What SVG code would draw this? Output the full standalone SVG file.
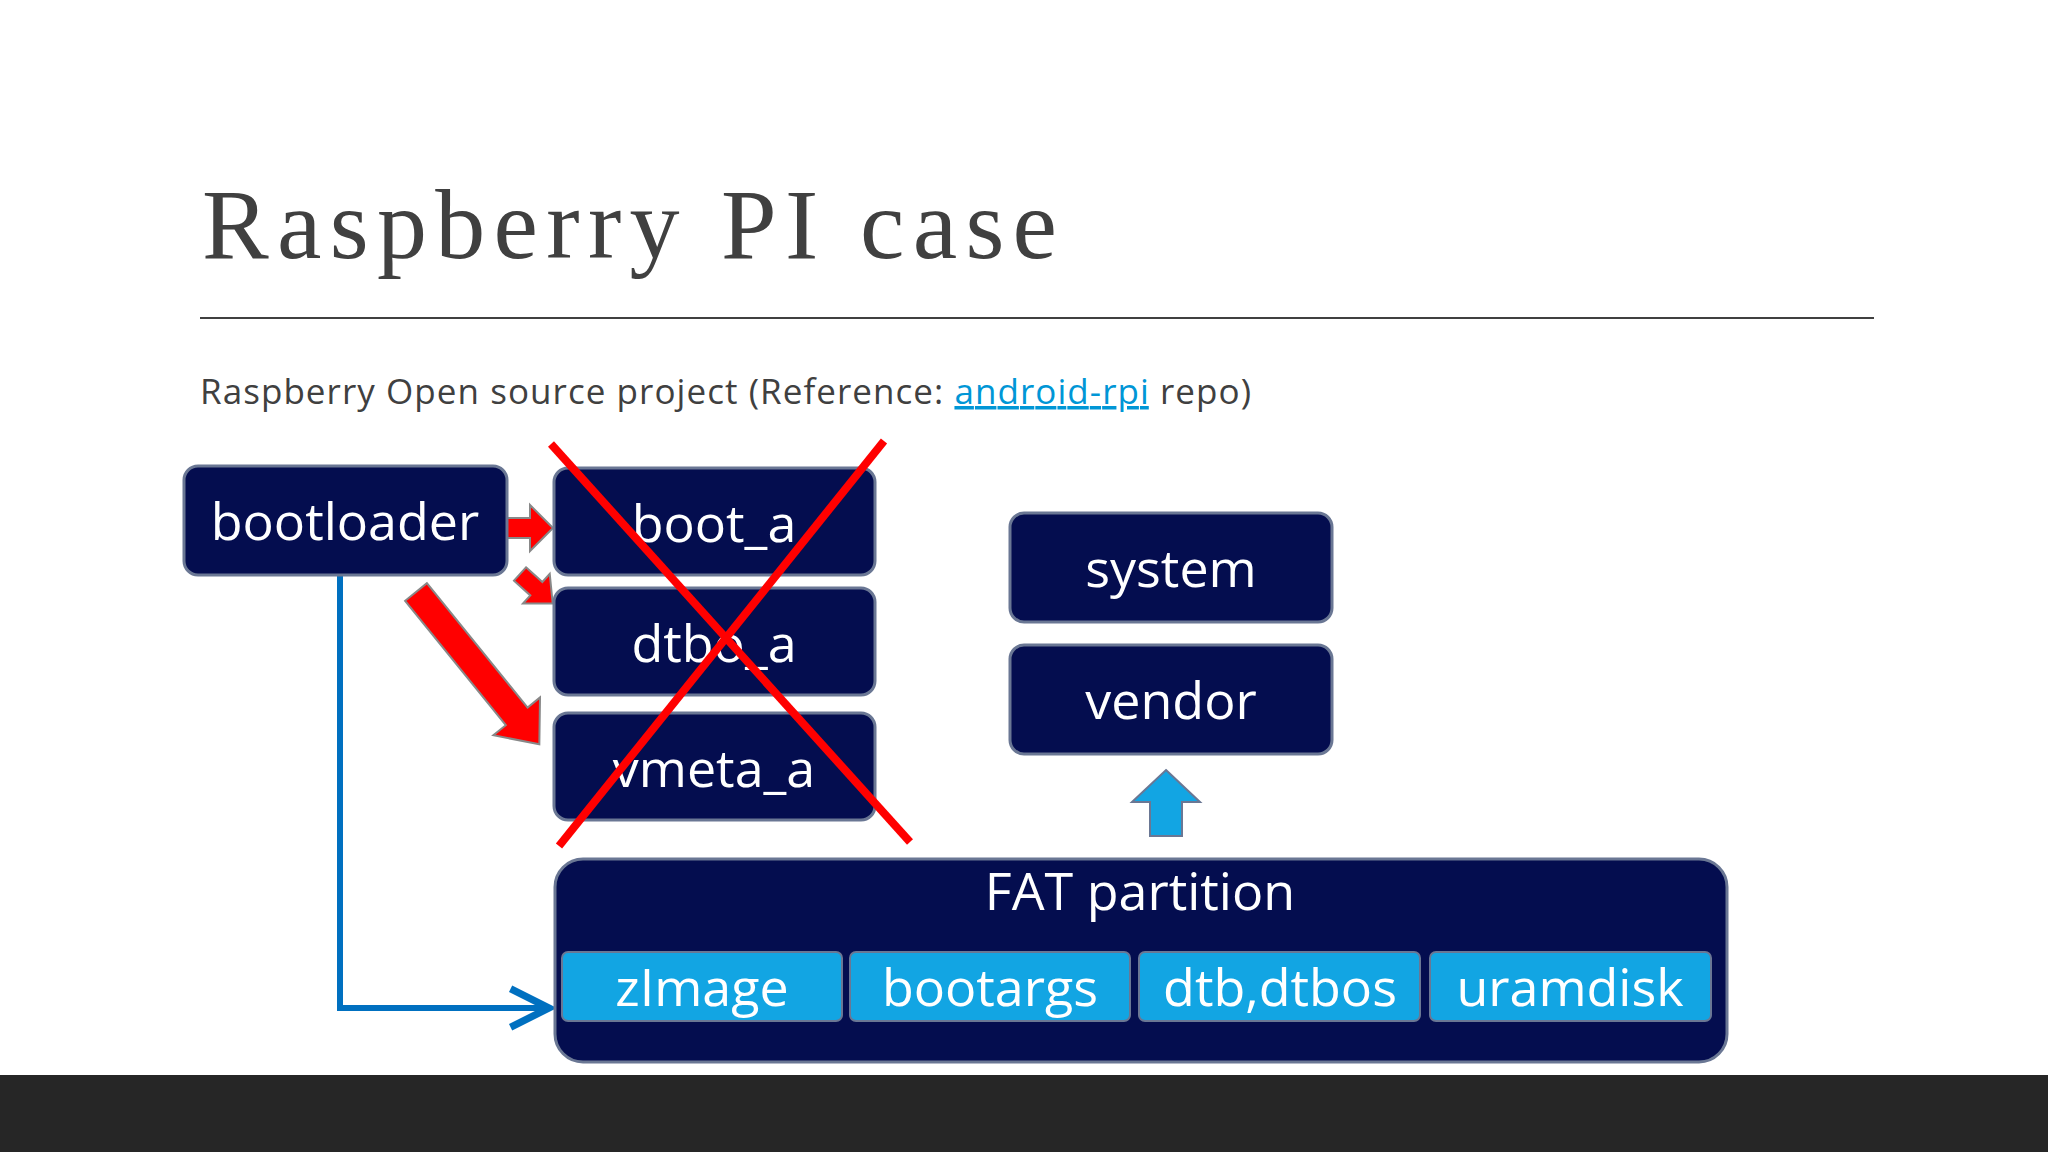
<svg xmlns="http://www.w3.org/2000/svg" width="2048" height="1152" viewBox="0 0 2048 1152">
<defs>
<style>
.box{fill:#040d4f;stroke:#6a7794;stroke-width:3}
.sub{fill:#12a5e3;stroke:#6a7794;stroke-width:2}
.lbl{font-family:"Open Sans","Noto Sans",sans-serif;font-size:52px;fill:#ffffff;text-anchor:middle}
.red{fill:#ff0000;stroke:#888;stroke-width:2}
</style>
<marker id="chev" viewBox="0 0 20 20" refX="18" refY="10" markerWidth="8" markerHeight="8" markerUnits="strokeWidth" orient="auto"><path d="M2,2 L18,10 L2,18" fill="none" stroke="#0070c0" stroke-width="3"/></marker>
</defs>
<rect width="2048" height="1152" fill="#ffffff"/>
<rect y="1075" width="2048" height="77" fill="#262626"/>
<text x="202" y="258" font-family="'Liberation Serif',serif" font-size="100" fill="#404040" textLength="855">Raspberry PI case</text>
<line x1="200" y1="318" x2="1874" y2="318" stroke="#404040" stroke-width="2"/>
<text x="200" y="404" font-family="'Open Sans','Noto Sans',sans-serif" font-size="35" fill="#404040" textLength="1051">Raspberry Open source project (Reference: <tspan fill="#0096d6" text-decoration="underline">android-rpi</tspan> repo)</text>
<g id="connectors">
<polyline points="340,569 340,1008 549,1008" fill="none" stroke="#0070c0" stroke-width="6" marker-end="url(#chev)"/>
<path class="red" d="M507,518 L530,518 L530,505 L553,528 L530,551 L530,538 L507,538 Z"/>
<path class="red" transform="translate(520,574) rotate(42)" d="M0,-9 L22,-9 L22,-20 L44,0 L22,20 L22,9 L0,9 Z"/>
<path class="red" transform="translate(416,592) rotate(51)" d="M0,-14 L160,-14 L160,-30 L196,0 L160,30 L160,14 L0,14 Z"/>
<path d="M1166,770 L1200,802 L1182,802 L1182,836 L1150,836 L1150,802 L1132,802 Z" fill="#12a5e3" stroke="#6a7794" stroke-width="2"/>
</g>
<g id="bootloader"><rect class="box" x="184" y="466" width="323" height="109" rx="14"/><text class="lbl" x="345" y="540">bootloader</text></g>
<g id="boot_a"><rect class="box" x="554" y="468" width="321" height="107" rx="14"/><text class="lbl" x="714" y="542">boot_a</text></g>
<g id="dtbo_a"><rect class="box" x="554" y="588" width="321" height="107" rx="14"/><text class="lbl" x="714" y="662">dtbo_a</text></g>
<g id="vmeta_a"><rect class="box" x="554" y="713" width="321" height="107" rx="14"/><text class="lbl" x="714" y="787">vmeta_a</text></g>
<g id="system"><rect class="box" x="1010" y="513" width="322" height="109" rx="14"/><text class="lbl" x="1171" y="587">system</text></g>
<g id="vendor"><rect class="box" x="1010" y="645" width="322" height="109" rx="14"/><text class="lbl" x="1171" y="719">vendor</text></g>
<g id="fat">
<rect class="box" x="555" y="859" width="1172" height="203" rx="28"/>
<text class="lbl" x="1140" y="910">FAT partition</text>
<rect class="sub" x="562" y="952" width="280" height="69" rx="6"/><text class="lbl" x="702" y="1006">zImage</text>
<rect class="sub" x="850" y="952" width="280" height="69" rx="6"/><text class="lbl" x="990" y="1006">bootargs</text>
<rect class="sub" x="1139" y="952" width="281" height="69" rx="6"/><text class="lbl" x="1280" y="1006">dtb,dtbos</text>
<rect class="sub" x="1430" y="952" width="281" height="69" rx="6"/><text class="lbl" x="1570" y="1006">uramdisk</text>
</g>
<g id="cross" stroke="#ff0000" stroke-width="8" stroke-linecap="butt">
<line x1="551" y1="444" x2="910" y2="842"/>
<line x1="884" y1="441" x2="559" y2="846"/>
</g>
</svg>
